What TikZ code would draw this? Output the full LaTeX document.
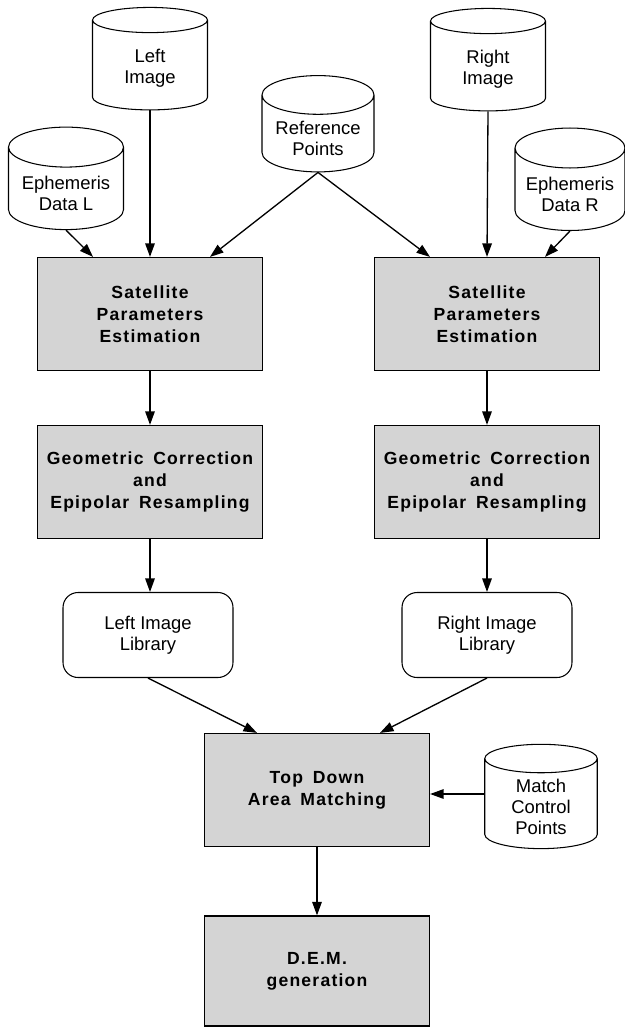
\documentclass[tikz,border=0pt]{standalone}
\usepackage{fontspec}
\setmainfont{Liberation Sans}
\newfontfamily\spacedfont[LetterSpace=7.0,WordSpace=1.6]{Liberation Sans}
\usetikzlibrary{shapes.geometric, arrows.meta}

\begin{document}
\begin{tikzpicture}[x=0.02cm, y=-0.02cm,
    proc/.style={draw, line width=0.7pt, fill=black!17, minimum width=4.5cm, minimum height=2.26cm, align=center, font=\spacedfont\bfseries\fontsize{10}{12.5}\selectfont},
    store/.style={draw, line width=0.6pt, cylinder, shape border rotate=90, aspect=0.4, minimum width=2.3cm, minimum height=2.05cm, align=center, font=\fontsize{10.5}{12}\selectfont},
    lib/.style={draw, line width=0.6pt, rounded corners=0.3cm, minimum width=3.4cm, minimum height=1.7cm, align=center, font=\fontsize{10.5}{12}\selectfont},
    flow/.style={-{Triangle[length=0.27cm,width=0.19cm]}, line width=0.75pt}
  ]
    \useasboundingbox (0,0) rectangle (625,1028);

    % data sources
    \node[store] at (150,68) (leftimg) {Left\\Image};
    \node[store] at (66,193) (ephl) {Ephemeris\\Data L};
    \node[store, minimum height=1.68cm, minimum width=2.24cm] at (318,138) (refpts) {Reference\\Points};
    \node[store] at (488,69) (rightimg) {Right\\Image};
    \node[store, minimum width=2.2cm] at (570,194) (ephr) {Ephemeris\\Data R};

    % left chain
    \node[proc] at (150,314) (satl) {Satellite\\Parameters\\Estimation};
    \node[proc] at (150,482) (geol) {Geometric Correction\\and\\Epipolar Resampling};
    \node[lib] at (148,635) (libl) {Left Image\\Library};

    % right chain
    \node[proc] at (487,314) (satr) {Satellite\\Parameters\\Estimation};
    \node[proc] at (487,482) (geor) {Geometric Correction\\and\\Epipolar Resampling};
    \node[lib] at (487,635) (libr) {Right Image\\Library};

    % matching
    \node[proc] at (317,790) (topdown) {Top Down\\Area Matching};
    \node[store, minimum width=2.25cm] at (541,807) (match) {Match\\Control\\Points};
    \node[proc, minimum height=2.2cm] at (317,971) (dem) {D.E.M.\\generation};

    \draw[flow] (ephl.south) -- ([xshift=-1.14cm]satl.north);
    \draw[flow] (leftimg.south) -- (satl.north);
    \draw[flow] (refpts.south) -- ([xshift=1.2cm]satl.north);
    \draw[flow] (refpts.south) -- ([xshift=-1.14cm]satr.north);
    \draw[flow] (rightimg.south) -- (satr.north);
    \draw[flow] (ephr.south) -- ([xshift=1.16cm]satr.north);

    \draw[flow] (satl) -- (geol);
    \draw[flow] (geol) -- (libl.north -| geol.south);
    \draw[flow] (satr) -- (geor);
    \draw[flow] (geor) -- (libr);

    \draw[flow] (libl.south) -- ([xshift=-1.2cm]topdown.north);
    \draw[flow] (libr.south) -- ([xshift=1.26cm]topdown.north);
    \draw[flow] (match.west |- 0,794) -- (topdown.east |- 0,794);
    \draw[flow] (topdown) -- (dem);
\end{tikzpicture}
\end{document}
